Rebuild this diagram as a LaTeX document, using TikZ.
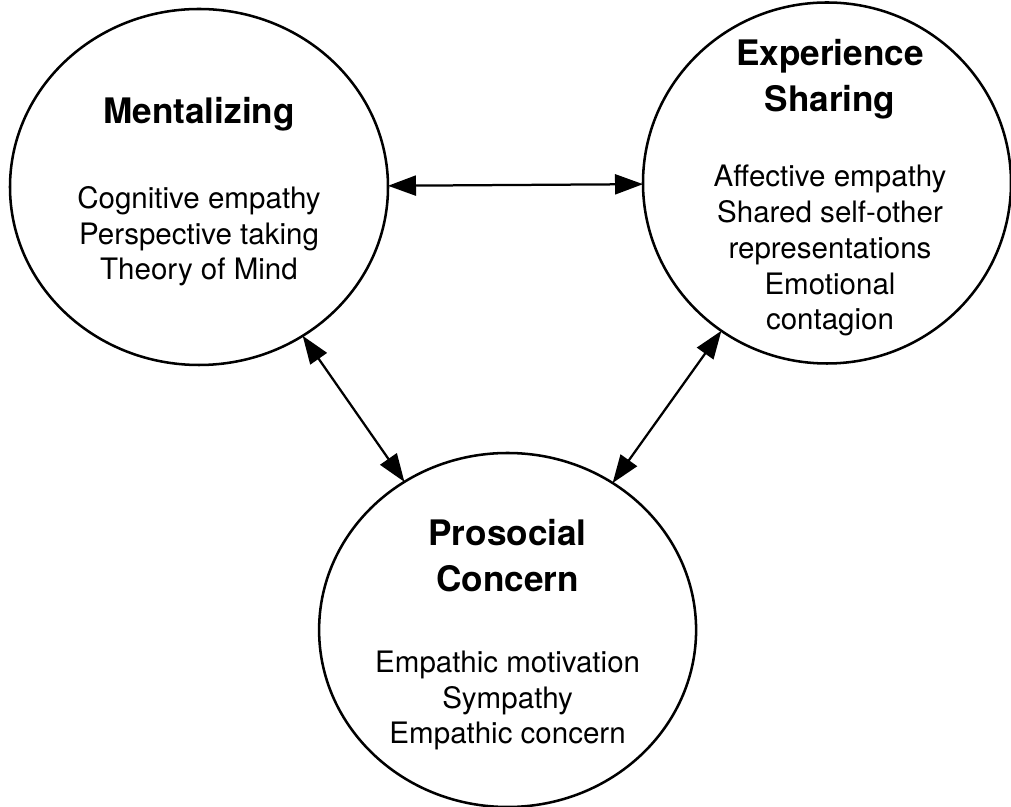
\documentclass[tikz,border=0pt]{standalone}
\usepackage{fontspec}
\setmainfont{TeX Gyre Heros}
\usepackage{tikz}
\usetikzlibrary{shapes.geometric}
\usetikzlibrary{arrows.meta}

\begin{document}
\begin{tikzpicture}[
  area/.style={draw, ellipse, line width = 1.8pt, inner sep = 0pt, outer sep = 0pt},
  heading/.style={font = \fontsize{25}{33.4}\selectfont\bfseries, align = center, anchor = base},
  items/.style={font = \fontsize{21}{25.6}\selectfont, align = center, anchor = base},
  link/.style={{Triangle[length = 7mm, width = 5mm]}-{Triangle[length = 7mm, width = 5mm]}, line width = 1.6pt}
]
  \useasboundingbox (0, 0) rectangle (25.275, 20.175);

  \node[area, minimum width = 9.45cm, minimum height = 8.9cm] (ment) at (4.975, 15.5) {};
  \node[area, minimum width = 9.2cm, minimum height = 9.025cm] (exp) at (20.675, 15.6) {};
  \node[area, minimum width = 9.425cm, minimum height = 8.85cm] (pro) at (12.69, 4.425) {};

  % text nodes sit on the baseline of their last line
  \node[heading] (ment title) at (4.975, 17.075) {Mentalizing};
  \node[items] (ment items) at (4.975, 13.175) {Cognitive empathy\\Perspective taking\\Theory of Mind};

  \node[heading] (exp title) at (20.75, 17.375) {Experience\\Sharing};
  \node[items] (exp items) at (20.75, 11.925) {Affective empathy\\Shared self-other\\representations\\Emotional\\contagion};

  \node[heading] (pro title) at (12.69, 5.375) {Prosocial\\Concern};
  \node[items] (pro items) at (12.69, 1.575) {Empathic motivation\\Sympathy\\Empathic concern};

  \draw[link] (ment) -- (exp);
  \draw[link] (ment) -- (pro);
  \draw[link] (exp) -- (pro);
\end{tikzpicture}
\end{document}
